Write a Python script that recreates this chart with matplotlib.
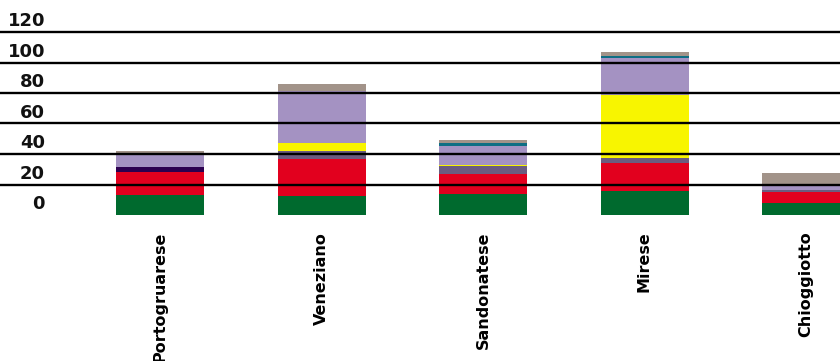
import matplotlib
matplotlib.use('Agg')
import matplotlib.pyplot as plt
import numpy as np

plt.rcParams['font.family'] = ['DejaVu Sans']

# Dati per area (valori impilati dal basso verso l'alto)
categories = ['Portogruarese', 'Veneziano', 'Sandonatese', 'Mirese', 'Chioggiotto']
green = [13.1, 12.5, 13.8, 15.7, 7.7]
red = [15.1, 24.5, 12.9, 18.4, 7.2]
dark_purple = [3.2, 0.0, 0.0, 0.0, 0.0]
slate = [0.0, 5.0, 5.2, 3.3, 1.7]
yellow = [0.0, 5.4, 0.7, 41.3, 0.0]
lavender = [8.5, 33.9, 12.5, 24.3, 3.1]
teal = [0.0, 0.0, 2.2, 1.3, 0.0]
taupe = [2.2, 4.6, 1.7, 2.6, 7.9]
y_ticks = [0, 20, 40, 60, 80, 100, 120]

series = [
    (green, '#006a2e'),
    (red, '#e2001e'),
    (dark_purple, '#2c0050'),
    (slate, '#6b5c80'),
    (yellow, '#f8f500'),
    (lavender, '#a492c2'),
    (teal, '#0e6e84'),
    (taupe, '#a29389'),
]

W, H = 840, 361
fig = plt.figure(figsize=(W / 100, H / 100), dpi=100)
# asse che occupa tutta la larghezza, zero a 215 px dall'alto
ax = fig.add_axes([0, 1 - 215 / H, 1, 215 / H])
ax.set_ylim(0, 215 / 1.525)
spacing = 161.5
ax.set_xlim(-160 / spacing, (W - 160) / spacing)

x = np.arange(len(categories))
bottom = np.zeros(len(categories))
for vals, col in series:
    vals = np.array(vals)
    ax.bar(x, vals, width=88 / spacing, bottom=bottom, color=col,
           linewidth=0, zorder=2)
    bottom += vals

# linee orizzontali sopra le barre (non sullo zero)
for t in y_ticks[1:]:
    ax.axhline(t, color='black', lw=1.7, zorder=3)

# etichette dell'asse y appoggiate sulle linee
for t in y_ticks:
    ax.text(45 / W, t + 1.2, str(t), transform=ax.get_yaxis_transform(),
            ha='right', va='bottom', fontsize=13, fontweight='bold', color='#111111')

ax.set_yticks([])
ax.set_xticks(x)
ax.set_xticklabels(categories, rotation=90, fontsize=11.5, fontweight='bold')
ax.tick_params(axis='x', length=0, pad=12)
for s in ax.spines.values():
    s.set_visible(False)

fig.savefig('out.png', dpi=100)
